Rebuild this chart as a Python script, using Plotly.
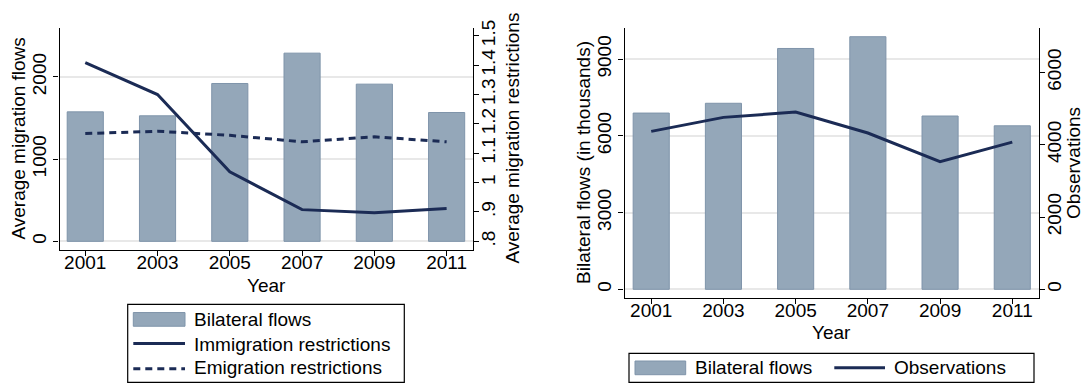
import plotly.graph_objects as go

# ---- data ----
years = [2001, 2003, 2005, 2007, 2009, 2011]

# left panel
avg_flows = [1575, 1527, 1920, 2289, 1912, 1567]
immig_restr = [1.409, 1.300, 1.037, 0.908, 0.897, 0.912]
emig_restr = [1.167, 1.175, 1.161, 1.139, 1.156, 1.139]

# right panel
bilateral_thousands = [6894, 7277, 9421, 9881, 6779, 6396]
observations = [4369, 4757, 4903, 4324, 3530, 4071]

left_y_ticks = [0, 1000, 2000]
restr_ticks = [0.8, 0.9, 1.0, 1.1, 1.2, 1.3, 1.4, 1.5]
restr_tick_text = [".8", ".9", "1", "1.1", "1.2", "1.3", "1.4", "1.5"]
right_y_ticks = [0, 3000, 6000, 9000]
obs_ticks = [0, 2000, 4000, 6000]

# ---- style ----
W, H = 1084, 385
FONT = "Liberation Sans, Arial, sans-serif"
FS = 19
BAR_FILL = "#94a7b9"
BAR_EDGE = "#7f94aa"
NAVY = "#1b2b55"
GRID = "#e8e8e8"


def px(x):
    return x / W


def py(y):
    return 1 - y / H


fig = go.Figure()

bar_style = dict(marker=dict(color=BAR_FILL, line=dict(color=BAR_EDGE, width=1)),
                 width=1.0, showlegend=False)

# left panel
fig.add_trace(go.Bar(x=years, y=avg_flows, name="Bilateral flows",
                     xaxis="x", yaxis="y", **bar_style))
fig.add_trace(go.Scatter(x=years, y=immig_restr, name="Immigration restrictions",
                         mode="lines", line=dict(color=NAVY, width=3),
                         xaxis="x", yaxis="y2", showlegend=False))
fig.add_trace(go.Scatter(x=years, y=emig_restr, name="Emigration restrictions",
                         mode="lines", line=dict(color=NAVY, width=3, dash="7px,5px"),
                         xaxis="x", yaxis="y2", showlegend=False))

# right panel
fig.add_trace(go.Bar(x=years, y=bilateral_thousands, name="Bilateral flows",
                     xaxis="x2", yaxis="y3", **bar_style))
fig.add_trace(go.Scatter(x=years, y=observations, name="Observations",
                         mode="lines", line=dict(color=NAVY, width=3),
                         xaxis="x2", yaxis="y4", showlegend=False))

tickfont = dict(family=FONT, size=FS, color="black")
common_x = dict(tickvals=years, ticks="outside", ticklen=5, tickwidth=1.2,
                tickcolor="black", showline=True, linecolor="black", linewidth=1.3,
                showgrid=False, zeroline=False, tickfont=tickfont,
                ticklabelstandoff=-10)
common_y = dict(ticks="outside", ticklen=5, tickwidth=1.2, tickcolor="black",
                showline=True, linecolor="black", linewidth=1.3, zeroline=False,
                tickangle=-90, tickfont=tickfont)

L = dict(x0=59.6, x1=473.0, y0=20, y1=246.7)
R = dict(x0=624.5, x1=1039.0, y0=20.7, y1=295.7)

fig.update_layout(
    width=W, height=H,
    margin=dict(l=0, r=0, t=0, b=0),
    paper_bgcolor="white", plot_bgcolor="white",
    font=dict(family=FONT, size=FS, color="black"),
    barmode="overlay",
    showlegend=False,
    xaxis=dict(domain=[px(L["x0"]), px(L["x1"])], range=[2000.29, 2011.73],
               anchor="y", **common_x),
    yaxis=dict(domain=[py(L["y1"]), py(L["y0"])], range=[-100, 2600],
               tickvals=left_y_ticks, showgrid=True, gridcolor=GRID, gridwidth=1.5,
               anchor="x", **common_y),
    yaxis2=dict(overlaying="y", side="right", anchor="x", range=[0.772, 1.528],
                tickvals=restr_ticks, ticktext=restr_tick_text, showgrid=False,
                ticklabelstandoff=-7, **common_y),
    xaxis2=dict(domain=[px(R["x0"]), px(R["x1"])], range=[2000.26, 2011.74],
                anchor="y3", **common_x),
    yaxis3=dict(domain=[py(R["y1"]), py(R["y0"])], range=[-322, 10211],
                tickvals=right_y_ticks, showgrid=True, gridcolor=GRID, gridwidth=1.5,
                anchor="x2", **common_y),
    yaxis4=dict(overlaying="y3", side="right", anchor="x2", range=[-228, 7222],
                tickvals=obs_ticks, showgrid=False, ticklabelstandoff=-7, **common_y),
)

# ---- axis titles ----
titles = [
    ("Average migration flows", 19, (L["y0"] + L["y1"]) / 2, -90),
    ("Average migration restrictions", 513, (L["y0"] + L["y1"]) / 2, -90),
    ("Year", (L["x0"] + L["x1"]) / 2, 283, 0),
    ("Bilateral flows (in thousands)", 584, (R["y0"] + R["y1"]) / 2, -90),
    ("Observations", 1074, (R["y0"] + R["y1"]) / 2, -90),
    ("Year", (R["x0"] + R["x1"]) / 2, 331.7, 0),
]
for text, x, y, ang in titles:
    fig.add_annotation(text=text, x=px(x), y=py(y), xref="paper", yref="paper",
                       xanchor="center", yanchor="middle", textangle=ang,
                       showarrow=False, font=dict(family=FONT, size=FS, color="black"))


# ---- legends ----
def legend_box(x0, y0, x1, y1):
    fig.add_shape(type="rect", xref="paper", yref="paper",
                  x0=px(x0), x1=px(x1), y0=py(y1), y1=py(y0),
                  line=dict(color="black", width=1.2), fillcolor="white")


def legend_bar(x0, x1, yc):
    fig.add_shape(type="rect", xref="paper", yref="paper",
                  x0=px(x0), x1=px(x1), y0=py(yc + 7), y1=py(yc - 7),
                  line=dict(color=BAR_EDGE, width=1), fillcolor=BAR_FILL)


def legend_line(x0, x1, yc, dash="solid"):
    fig.add_shape(type="line", xref="paper", yref="paper",
                  x0=px(x0), x1=px(x1), y0=py(yc), y1=py(yc),
                  line=dict(color=NAVY, width=3, dash=dash))


def legend_text(text, x, yc):
    fig.add_annotation(text=text, x=px(x), y=py(yc), xref="paper", yref="paper",
                       xanchor="left", yanchor="middle", showarrow=False,
                       font=dict(family=FONT, size=FS, color="black"))


# left legend
legend_box(127.7, 302.7, 404.3, 382.3)
legend_bar(133.3, 185, 318)
legend_line(133.3, 185, 342.5)
legend_line(133.3, 185, 368.5, dash="7px,5px")
legend_text("Bilateral flows", 192, 318.5)
legend_text("Immigration restrictions", 192, 343.5)
legend_text("Emigration restrictions", 192, 367.5)

# right legend
legend_box(629, 352.7, 1034, 382.3)
legend_bar(635, 685.7, 367.5)
legend_line(834.3, 885, 367.3)
legend_text("Bilateral flows", 693, 367.5)
legend_text("Observations", 891.5, 367.5)

fig.write_html("out.html")
